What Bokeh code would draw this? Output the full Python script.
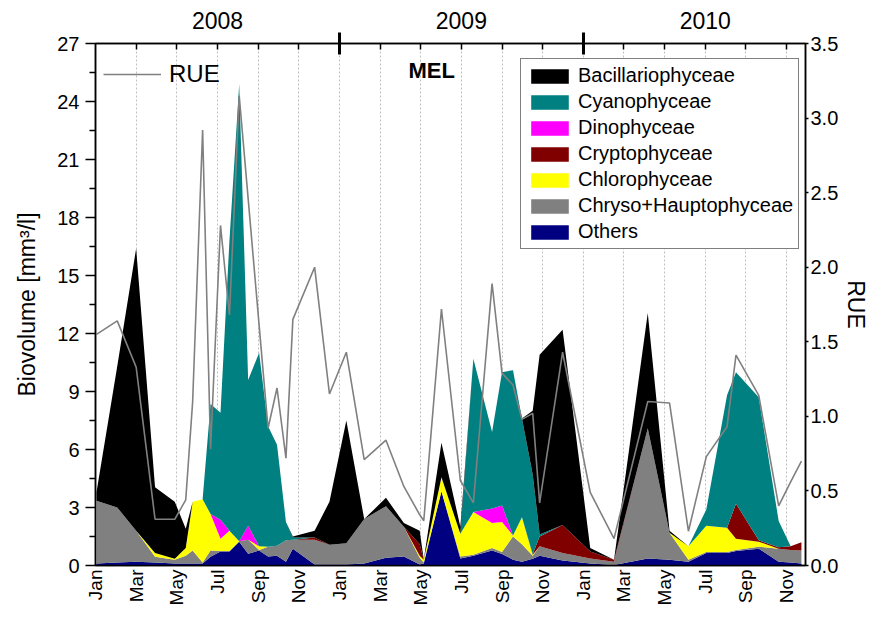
import math
from bokeh.plotting import figure
from bokeh.models import (ColumnDataSource, Range1d, LinearAxis, FixedTicker, Legend,
                          LegendItem, Label, PrintfTickFormatter)
from bokeh.embed import file_html
from bokeh.resources import INLINE

# sample times: months since 1 Jan 2008
months = [0.05, 1.07, 2.0, 2.93, 3.9, 4.44, 4.78, 5.27, 5.66, 6.15, 6.59, 7.07, 7.51, 8.05,
          8.49, 8.93, 9.37, 9.71, 10.78, 11.51, 12.34, 13.22, 14.29, 15.17, 15.95, 16.15,
          17.02, 17.95, 18.59, 19.51, 20.0, 20.54, 20.98, 21.51, 21.85, 22.98, 24.34, 25.51,
          27.17, 28.24, 29.17, 30.05, 31.07, 31.51, 32.63, 33.61, 34.2, 34.73]

others = [0.1, 0.15, 0.2, 0.15, 0.1, 0.1, 0.1, 0.1, 0.45, 0.72, 0.72, 1.23, 0.61, 0.77, 0.46,
          0.51, 0.2, 0.87, 0.05, 0.05, 0.05, 0.1, 0.4, 0.46, 0.05, 0.1, 3.84, 0.36, 0.5, 0.77,
          0.6, 0.3, 0.2, 0.35, 0.51, 0.26, 0.1, 0.02, 0.36, 0.3, 0.2, 0.65, 0.65, 0.75, 0.87,
          0.2, 0.15, 0.1]
chryso = [3.25, 2.85, 1.6, 0.3, 0.2, 0.4, 0.67, 0.05, 0.32, 0.03, 0.03, 0.02, 0.72, 0.03, 0.51,
          0.51, 1.1, 0.46, 1.28, 1.02, 1.1, 2.3, 2.67, 1.54, 0.35, 0.05, 0.0, 0.1, 0.05, 0.13,
          0.1, 1.2, 0.9, 0.15, 0.49, 0.39, 0.26, 0.18, 6.74, 1.4, 0.1, 0.05, 0.05, 0.05, 0.1,
          0.67, 0.65, 0.67]
chloro = [0, 0, 0, 0.2, 0.05, 0.4, 2.53, 3.28, 1.89, 0.63, 1.05, 0, 0, 0.2, 0, 0, 0, 0, 0, 0,
          0, 0, 0, 0, 0.1, 0.15, 0.72, 1.18, 2.22, 1.3, 1.55, 0.05, 1.4, 0.05, 0, 0, 0, 0, 0, 0,
          0.7, 1.35, 1.25, 0.58, 0.26, 0, 0, 0]
crypto = [0, 0, 0, 0, 0, 0, 0, 0, 0, 0, 0, 0, 0, 0, 0, 0, 0, 0, 0.12, 0, 0, 0, 0, 0, 0.6, 0,
          0, 0, 0, 0, 0, 0, 0, 0.05, 0.5, 1.45, 0.36, 0.1, 0, 0, 0, 0, 0, 1.82, 0.07, 0.08,
          0.2, 0.43]
dino = [0, 0, 0, 0, 0, 0, 0, 0, 0, 0.98, 0, 0, 0.72, 0, 0, 0, 0, 0, 0, 0, 0, 0, 0, 0, 0, 0,
        0, 0, 0, 0.75, 0.85, 0, 0, 0, 0, 0, 0, 0, 0, 0, 0, 0, 0, 0, 0, 0, 0, 0]
cyano = [0, 0, 0, 0, 0, 0, 0, 0, 5.69, 5.54, 15.0, 23.65, 7.55, 10.0, 6.23, 5.23, 0.95, 0.12,
         0, 0, 0, 0, 0, 0, 0, 0, 0, 0, 7.93, 3.95, 6.9, 8.55, 5.1, 4.1, 0.1, 0, 0, 0, 0, 0, 0,
         0.85, 6.85, 6.8, 7.4, 1.35, 0, 0]
bacil = [0.45, 7.3, 14.6, 3.4, 2.95, 1.0, 0, 0, 0, 0, 0, 0, 0, 0, 0, 0, 0, 0.05, 0.35, 2.23,
         6.35, 0, 0.43, 0.2, 0.7, 0, 1.79, 0.36, 0, 0, 0, 0, 0, 3.3, 9.3, 10.1, 0.18, 0, 5.96,
         0.1, 0, 0, 0, 0, 0, 0, 0, 0]
rue = [1.55, 1.64, 1.33, 0.31, 0.31, 0.44, 1.1, 2.92, 0.78, 2.28, 1.68, 3.15, 2.46, 1.61, 0.92,
       1.19, 0.72, 1.65, 2.0, 1.15, 1.43, 0.71, 0.84, 0.53, 0.34, 0.30, 1.72, 0.57, 0.42, 1.89,
       1.29, 1.21, 0.98, 1.02, 0.42, 1.43, 0.49, 0.18, 1.10, 1.09, 0.23, 0.73, 0.93, 1.41, 1.14,
       0.40, 0.56, 0.70]

month_ticks = list(range(0, 35, 2))
month_names = ["Jan", "Mar", "May", "Jul", "Sep", "Nov"] * 3
year_names = ["2008", "2009", "2010"]
year_mid = [6, 18, 30]
year_breaks = [12, 24]
bio_ticks = [0, 3, 6, 9, 12, 15, 18, 21, 24, 27]
rue_ticks = [0, 0.5, 1.0, 1.5, 2.0, 2.5, 3.0, 3.5]

series = ["others", "chryso", "chloro", "crypto", "dino", "cyano", "bacil"]
names = {"others": "Others", "chryso": "Chryso+Hauptophyceae", "chloro": "Chlorophyceae",
         "crypto": "Cryptophyceae", "dino": "Dinophyceae", "cyano": "Cyanophyceae",
         "bacil": "Bacillariophyceae"}
colors = {"others": "#000080", "chryso": "#808080", "chloro": "#FFFF00", "crypto": "#800000",
          "dino": "#FF00FF", "cyano": "#008080", "bacil": "#000000"}

FONT = "Liberation Sans"

src = ColumnDataSource(dict(x=months, others=others, chryso=chryso, chloro=chloro,
                            crypto=crypto, dino=dino, cyano=cyano, bacil=bacil))

p = figure(width=879, height=609, x_range=Range1d(0, 34.93), y_range=Range1d(0, 27),
           output_backend="svg", toolbar_location=None,
           min_border_left=95, min_border_right=74, min_border_top=43, min_border_bottom=44)
p.extra_y_ranges = {"rue": Range1d(0, 3.5)}
p.outline_line_color = "black"
p.outline_line_width = 1.5
p.background_fill_color = "white"

rs = p.varea_stack(stackers=series, x="x", color=[colors[s] for s in series], source=src)
rmap = dict(zip(series, rs))

rue_line = p.line(months, rue, y_range_name="rue", line_color="#808080", line_width=1.6)

# grid
p.ygrid.visible = False
p.xgrid.ticker = FixedTicker(ticks=month_ticks)
p.xgrid.grid_line_color = "#c0c0c0"
p.xgrid.grid_line_dash = "2 2"
p.xgrid.grid_line_width = 1

# bottom axis
xa = p.xaxis[0]
xa.ticker = FixedTicker(ticks=month_ticks)
xa.major_label_overrides = {t: n for t, n in zip(month_ticks, month_names)}
xa.major_label_orientation = math.pi / 2
xa.major_tick_in = 0
xa.major_tick_out = 0
xa.minor_tick_in = 0
xa.minor_tick_out = 0
xa.major_label_standoff = 4
xa.major_label_text_font = FONT
xa.major_label_text_font_size = "19px"
xa.major_label_text_color = "black"
xa.axis_line_width = 1.5

# left axis
ya = p.yaxis[0]
ya.ticker = FixedTicker(ticks=bio_ticks, minor_ticks=[t + 1.5 for t in bio_ticks[:-1]])
ya.major_tick_out = 10
ya.major_tick_in = 0
ya.minor_tick_out = 6
ya.minor_tick_in = 0
ya.major_tick_line_width = 1.5
ya.minor_tick_line_width = 1.5
ya.axis_line_width = 1.5
ya.major_label_standoff = 6
ya.major_label_text_font = FONT
ya.major_label_text_font_size = "20px"
ya.major_label_text_color = "black"
ya.axis_label = "Biovolume [mm³/l]"
ya.axis_label_text_font = FONT
ya.axis_label_text_font_size = "23px"
ya.axis_label_text_font_style = "normal"
ya.axis_label_text_color = "black"
ya.axis_label_standoff = 14

# right axis
ra = LinearAxis(y_range_name="rue", ticker=FixedTicker(ticks=rue_ticks),
                formatter=PrintfTickFormatter(format="%.1f"))
ra.major_tick_out = 3
ra.major_tick_in = 0
ra.minor_tick_out = 0
ra.minor_tick_in = 0
ra.major_tick_line_width = 1.5
ra.axis_line_width = 1.5
ra.major_label_standoff = 2
ra.major_label_text_font = FONT
ra.major_label_text_font_size = "20px"
ra.major_label_text_color = "black"
ra.axis_label = "RUE"
ra.axis_label_text_font = FONT
ra.axis_label_text_font_size = "23px"
ra.axis_label_text_font_style = "normal"
ra.axis_label_text_color = "black"
ra.axis_label_standoff = 2
p.add_layout(ra, "right")

# top axis: year breaks and bi-monthly ticks
ta = LinearAxis(ticker=FixedTicker(ticks=year_breaks,
                                   minor_ticks=[t for t in month_ticks if t not in (0, 12, 24)]))
ta.major_label_overrides = {t: "" for t in year_breaks}
ta.major_label_text_font_size = "1px"
ta.major_label_standoff = 0
ta.major_tick_in = 11
ta.major_tick_out = 11
ta.major_tick_line_width = 3
ta.minor_tick_in = 6
ta.minor_tick_out = 0
ta.minor_tick_line_width = 1.5
ta.axis_line_width = 1.5
p.add_layout(ta, "above")

# top axis: year names
ty = LinearAxis(ticker=FixedTicker(ticks=year_mid, minor_ticks=[]))
ty.major_label_overrides = {m: y for m, y in zip(year_mid, year_names)}
ty.major_label_text_font = FONT
ty.major_label_text_font_size = "23px"
ty.major_label_text_color = "black"
ty.major_label_standoff = 4
ty.major_tick_in = 0
ty.major_tick_out = 0
ty.minor_tick_in = 0
ty.minor_tick_out = 0
ty.axis_line_alpha = 0
p.add_layout(ty, "above")

p.add_layout(Label(x=16.54, y=25.6, text="MEL", text_align="center", text_baseline="middle",
                   text_font=FONT, text_font_size="22px", text_font_style="bold",
                   text_color="black"))

order = ["bacil", "cyano", "dino", "crypto", "chloro", "chryso", "others"]
leg = Legend(items=[LegendItem(label=names[s], renderers=[rmap[s]]) for s in order],
             location=(425, 316))
leg.label_text_font = FONT
leg.label_text_font_size = "20px"
leg.label_text_color = "black"
leg.glyph_width = 47
leg.glyph_height = 18
leg.label_standoff = 5
leg.padding = 5
leg.spacing = 3
leg.margin = 0
leg.border_line_color = "black"
leg.border_line_width = 1.2
leg.background_fill_color = "white"
leg.background_fill_alpha = 1
p.add_layout(leg)

leg2 = Legend(items=[LegendItem(label="RUE", renderers=[rue_line])], location=(8, 477))
leg2.label_text_font = FONT
leg2.label_text_font_size = "24px"
leg2.label_text_color = "black"
leg2.glyph_width = 58
leg2.label_standoff = 8
leg2.padding = 0
leg2.margin = 0
leg2.border_line_alpha = 0
leg2.background_fill_alpha = 0
p.add_layout(leg2)

open("out.html", "w").write(file_html(p, INLINE))
